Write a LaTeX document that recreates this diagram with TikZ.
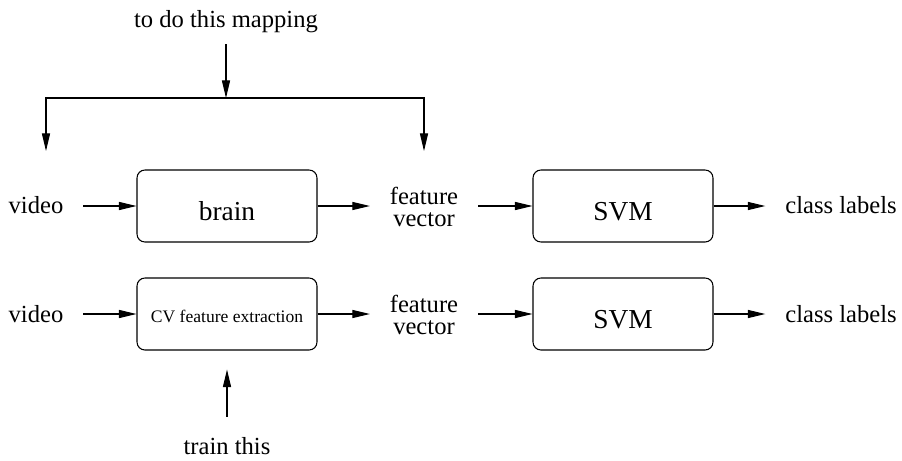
\documentclass[tikz,border=0pt]{standalone}
\usepackage{fontspec}
\setmainfont{Liberation Serif}
\usepackage{tikz}
\usetikzlibrary{arrows.meta,calc}

\begin{document}
\begin{tikzpicture}[x=0.02cm, y=-0.02cm,
    box/.style={draw, rectangle, rounded corners=4.5pt, line width=0.6pt,
                minimum width=3.6cm, minimum height=1.44cm,
                font=\fontsize{15.6}{18}\selectfont, text depth=0pt, text height=16.5pt},
    lbl/.style={inner sep=0pt, outer sep=0.4cm, align=center,
                font=\fontsize{14}{13}\selectfont},
    arrow/.style={-{Triangle[length=10pt, width=4.6pt]}, line width=0.6pt}
  ]
  \useasboundingbox (0,0) rectangle (902,460);

  \node[lbl, anchor=base, outer ysep=0.24cm] (mapping) at (226,27) {to do this mapping};

  \node[lbl, anchor=base] (video1) at (36,213) {video};
  \node[box] (brain) at (227,206) {brain};
  \node[lbl] (fv1) at (424,207) {feature\\vector};
  \node[box] (svm1) at (623,206) {SVM};
  \node[lbl, anchor=base] (cl1) at (841,213) {class labels};

  \node[lbl, anchor=base] (video2) at (36,322) {video};
  \node[box, font=\fontsize{10}{12}\selectfont, text height=9.1pt] (cv) at (227,314) {CV feature extraction};
  \node[lbl] (fv2) at (424,315) {feature\\vector};
  \node[box] (svm2) at (623,314) {SVM};
  \node[lbl, anchor=base] (cl2) at (841,322) {class labels};

  \node[lbl, anchor=base] (train) at (227,454) {train this};

  \coordinate (bm) at (226,98);
  \coordinate (tipl) at (46,151);
  \coordinate (tipr) at (424,151);

  \draw[arrow] (mapping) -- (bm);
  \draw[arrow] (bm) -| (tipl);
  \draw[arrow] (bm) -| (tipr);

  \draw[arrow] (video1.east |- brain) -- (brain);
  \draw[arrow] (brain) -- (brain -| fv1.west);
  \draw[arrow] (fv1.east |- svm1) -- (svm1);
  \draw[arrow] (svm1) -- (svm1 -| cl1.west);

  \draw[arrow] (video2.east |- cv) -- (cv);
  \draw[arrow] (cv) -- (cv -| fv2.west);
  \draw[arrow] (fv2.east |- svm2) -- (svm2);
  \draw[arrow] (svm2) -- (svm2 -| cl2.west);

  \draw[arrow, shorten >=0.38cm] (train) -- (cv);
\end{tikzpicture}
\end{document}
